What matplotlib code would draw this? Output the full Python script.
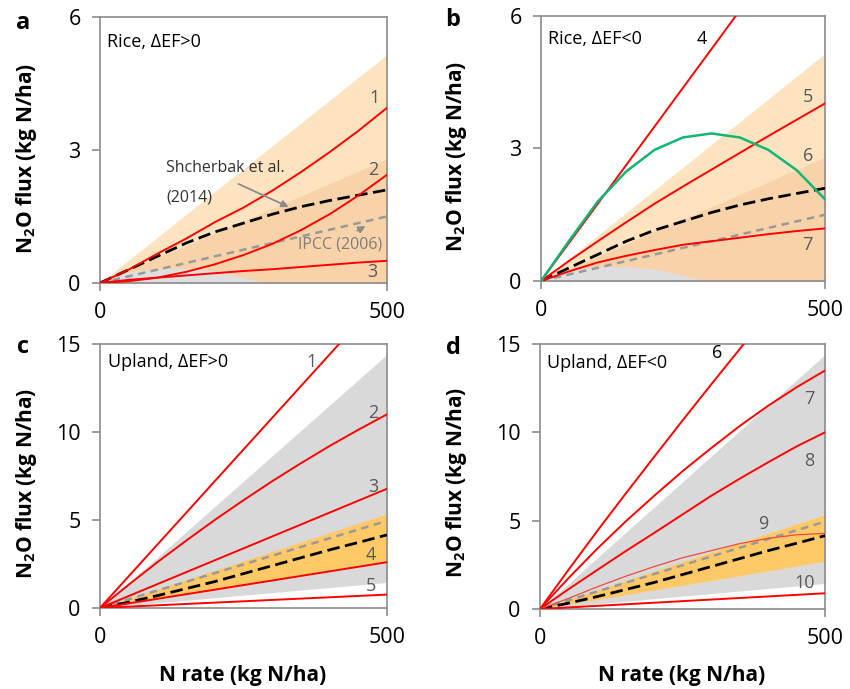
import numpy as np
import matplotlib
matplotlib.use("Agg")
import matplotlib.pyplot as plt

plt.rcParams['font.family'] = ['Open Sans', 'DejaVu Sans']
plt.rcParams['mathtext.fontset'] = 'custom'
plt.rcParams['mathtext.rm'] = 'Open Sans'
plt.rcParams['mathtext.bf'] = 'Open Sans:bold'

# N rate grids (kg N/ha)
x2 = [0, 500]
x11 = [0, 50, 100, 150, 200, 250, 300, 350, 400, 450, 500]
x_hump = [0, 25, 50, 100, 150, 200, 250, 290]

# rice: uncertainty bands
rice_band_hi = [0, 5.15]
rice_band_mid = [0, 2.8]
rice_hump = [0, 0.16, 0.25, 0.32, 0.33, 0.27, 0.13, 0.0]
rice_shcherbak = [0, 0.3, 0.6, 0.9, 1.15, 1.35, 1.55, 1.72, 1.86, 1.98, 2.1]
rice_ipcc = [0, 1.5]

# rice, dEF>0
rice_up_1 = [0, 0.3, 0.66, 1.0, 1.37, 1.7, 2.08, 2.5, 2.95, 3.43, 3.95]
rice_up_2 = [0, 0.04, 0.12, 0.25, 0.42, 0.63, 0.88, 1.19, 1.55, 1.97, 2.44]
rice_up_3 = [0, 0.07, 0.12, 0.17, 0.22, 0.27, 0.31, 0.36, 0.41, 0.46, 0.5]

# rice, dEF<0
rice_dn_4 = [0, 8.75]
rice_dn_5 = [0, 0.46, 0.9, 1.33, 1.75, 2.14, 2.52, 2.9, 3.28, 3.65, 4.02]
rice_dn_7 = [0, 0.22, 0.42, 0.57, 0.7, 0.82, 0.9, 0.98, 1.06, 1.13, 1.19]
rice_green = [0, 0.92, 1.8, 2.48, 2.97, 3.25, 3.34, 3.25, 2.97, 2.51, 1.85]

# upland: uncertainty bands
up_gray_hi = [0, 14.4]
up_gray_lo = [0, 1.45]
up_orange_hi = [0, 5.35]
up_orange_lo = [0, 2.7]
up_shcherbak = [0, 0.33, 0.7, 1.1, 1.5, 1.95, 2.4, 2.85, 3.3, 3.72, 4.15]
up_ipcc = [0, 4.95]

# upland, dEF>0
up_up_1 = [0, 18.0]
up_up_2 = [0, 1.32, 2.6, 3.82, 5.0, 6.12, 7.2, 8.22, 9.2, 10.12, 11.0]
up_up_3 = [0, 6.77]
up_up_4 = [0, 2.6]
up_up_5 = [0, 0.76]

# upland, dEF<0
up_dn_6 = [0, 2.22, 4.4, 6.52, 8.6, 10.67, 12.7, 14.7, 16.7, 18.65, 20.6]
up_dn_7 = [0, 1.75, 3.4, 4.95, 6.4, 7.8, 9.1, 10.35, 11.5, 12.55, 13.5]
up_dn_8 = [0, 1.12, 2.2, 3.27, 4.3, 5.35, 6.4, 7.37, 8.3, 9.2, 10.0]
up_dn_9 = [0, 0.6, 1.25, 1.85, 2.4, 2.9, 3.3, 3.7, 4.0, 4.2, 4.28]
up_dn_10 = [0, 0.89]

RED = '#FF0000'
LBL = '#595959'

fig = plt.figure(figsize=(8.5, 6.89), dpi=100)
axa = fig.add_axes([0.1176, 0.5893, 0.3376, 0.3860])
axb = fig.add_axes([0.6365, 0.5922, 0.3341, 0.3846])
axc = fig.add_axes([0.1176, 0.1176, 0.3376, 0.3832])
axd = fig.add_axes([0.6353, 0.1161, 0.3353, 0.3846])


def style(ax, ymax, yticks):
    ax.set_xlim(0, 500)
    ax.set_ylim(0, ymax)
    ax.set_xticks([0, 500])
    ax.set_yticks(yticks)
    for s in ax.spines.values():
        s.set_color('#8c8c8c')
        s.set_linewidth(1.2)
    ax.tick_params(direction='out', length=6, width=1.2, color='#8c8c8c',
                   labelsize=15.5, pad=8)


def rice_bg(ax):
    ax.fill_between(x2, 0, rice_band_hi, color='#FDE3C0', lw=0, zorder=1)
    ax.fill_between(x2, 0, rice_band_mid, color='#F8D3AA', lw=0, zorder=1)
    ax.fill_between(x_hump, 0, rice_hump, color='#DEDEDE', lw=0, zorder=1.5)
    ax.plot(x2, rice_ipcc, color='#999999', lw=1.8, dashes=(3, 2.2), zorder=3)
    ax.plot(x11, rice_shcherbak, color='black', lw=2.0, dashes=(4.5, 2), zorder=4)


def up_bg(ax):
    ax.fill_between(x2, up_gray_lo, up_gray_hi, color='#D9D9D9', lw=0, zorder=1)
    ax.fill_between(x2, up_orange_lo, up_orange_hi, color='#FFC967', lw=0, zorder=1.5)
    ax.plot(x2, up_ipcc, color='#999999', lw=1.8, dashes=(3, 2.2), zorder=3)
    ax.plot(x11, up_shcherbak, color='black', lw=2.0, dashes=(4.5, 2), zorder=4)


# a
rice_bg(axa)
for ys in [rice_up_1, rice_up_2, rice_up_3]:
    axa.plot(x11, ys, color=RED, lw=1.4, zorder=5)
style(axa, 6, [0, 3, 6])
axa.text(0.024, 0.906, 'Rice, ΔEF>0', transform=axa.transAxes, fontsize=13, va='center')
for lab, xx, yy in [('1', 479, 4.17), ('2', 477, 2.55), ('3', 474, 0.25)]:
    axa.text(xx, yy, lab, fontsize=13, color=LBL, ha='center', va='center', zorder=6)
axa.text(115, 2.59, 'Shcherbak et al.', fontsize=11.5, color='#333333', va='center')
axa.text(115, 1.92, '(2014)', fontsize=11.5, color='#333333', va='center')
axa.annotate('', xy=(333, 1.69), xytext=(237, 2.26),
             arrowprops=dict(arrowstyle='-|>', color='#8a8a8a', lw=1.3, mutation_scale=10), zorder=6)
axa.text(345, 0.86, 'IPCC (2006)', fontsize=11.5, color='#7f7f7f', va='center', zorder=6)
axa.annotate('', xy=(467, 1.31), xytext=(444, 1.15),
             arrowprops=dict(arrowstyle='-|>', color='#8a8a8a', lw=1.3, mutation_scale=10), zorder=6)

# b
rice_bg(axb)
axb.plot(x2, rice_dn_4, color=RED, lw=1.4, zorder=5)
axb.plot(x11, rice_dn_5, color=RED, lw=1.4, zorder=5)
axb.plot(x11, rice_dn_7, color=RED, lw=1.4, zorder=5)
axb.plot(x11, rice_green, color='#12B574', lw=1.8, zorder=6)
style(axb, 6, [0, 3, 6])
axb.text(0.025, 0.913, 'Rice, ΔEF<0', transform=axb.transAxes, fontsize=13, va='center')
axb.text(283, 5.48, '4', fontsize=13, color='black', ha='center', va='center')
for lab, xx, yy in [('5', 470, 4.17), ('6', 470, 2.83), ('7', 468, 0.82)]:
    axb.text(xx, yy, lab, fontsize=13, color=LBL, ha='center', va='center', zorder=6)

# c
up_bg(axc)
for ys, xs in [(up_up_1, x2), (up_up_2, x11), (up_up_3, x2), (up_up_4, x2), (up_up_5, x2)]:
    axc.plot(xs, ys, color=RED, lw=1.4, zorder=5)
style(axc, 15, [0, 5, 10, 15])
axc.text(0.028, 0.932, 'Upland, ΔEF>0', transform=axc.transAxes, fontsize=13, va='center')
for lab, xx, yy in [('1', 369, 14.0), ('2', 476, 11.1), ('3', 476, 6.9),
                    ('4', 472, 3.0), ('5', 472, 1.25)]:
    axc.text(xx, yy, lab, fontsize=13, color=LBL, ha='center', va='center', zorder=6)

# d
up_bg(axd)
for ys in [up_dn_6, up_dn_7, up_dn_8]:
    axd.plot(x11, ys, color=RED, lw=1.4, zorder=5)
axd.plot(x11, up_dn_9, color='#F24A3A', lw=0.9, zorder=5)
axd.plot(x2, up_dn_10, color=RED, lw=1.4, zorder=5)
style(axd, 15, [0, 5, 10, 15])
axd.text(0.025, 0.928, 'Upland, ΔEF<0', transform=axd.transAxes, fontsize=13, va='center')
axd.text(310, 14.5, '6', fontsize=13, color='black', ha='center', va='center')
for lab, xx, yy in [('7', 472, 11.9), ('8', 472, 8.4), ('9', 391, 4.8), ('10', 465, 1.5)]:
    axd.text(xx, yy, lab, fontsize=13, color=LBL, ha='center', va='center', zorder=6)

# panel letters and axis titles
W, H = 850.0, 689.0
for lab, px, py in [('a', 23, 23), ('b', 453, 20), ('c', 23, 347), ('d', 453, 348)]:
    fig.text(px / W, 1 - py / H, lab, fontsize=17, fontweight='bold', ha='center', va='center')
ylab = r'N$_\mathbf{2}$O flux (kg N/ha)'
for px, py in [(27, 158), (457, 156), (27, 483), (457, 482)]:
    fig.text(px / W, 1 - py / H, ylab, fontsize=15, fontweight='bold', rotation=90,
             ha='center', va='center')
for px in [243, 682]:
    fig.text(px / W, 1 - 675 / H, 'N rate (kg N/ha)', fontsize=15, fontweight='bold',
             ha='center', va='center')

fig.savefig('out.png', dpi=100)
